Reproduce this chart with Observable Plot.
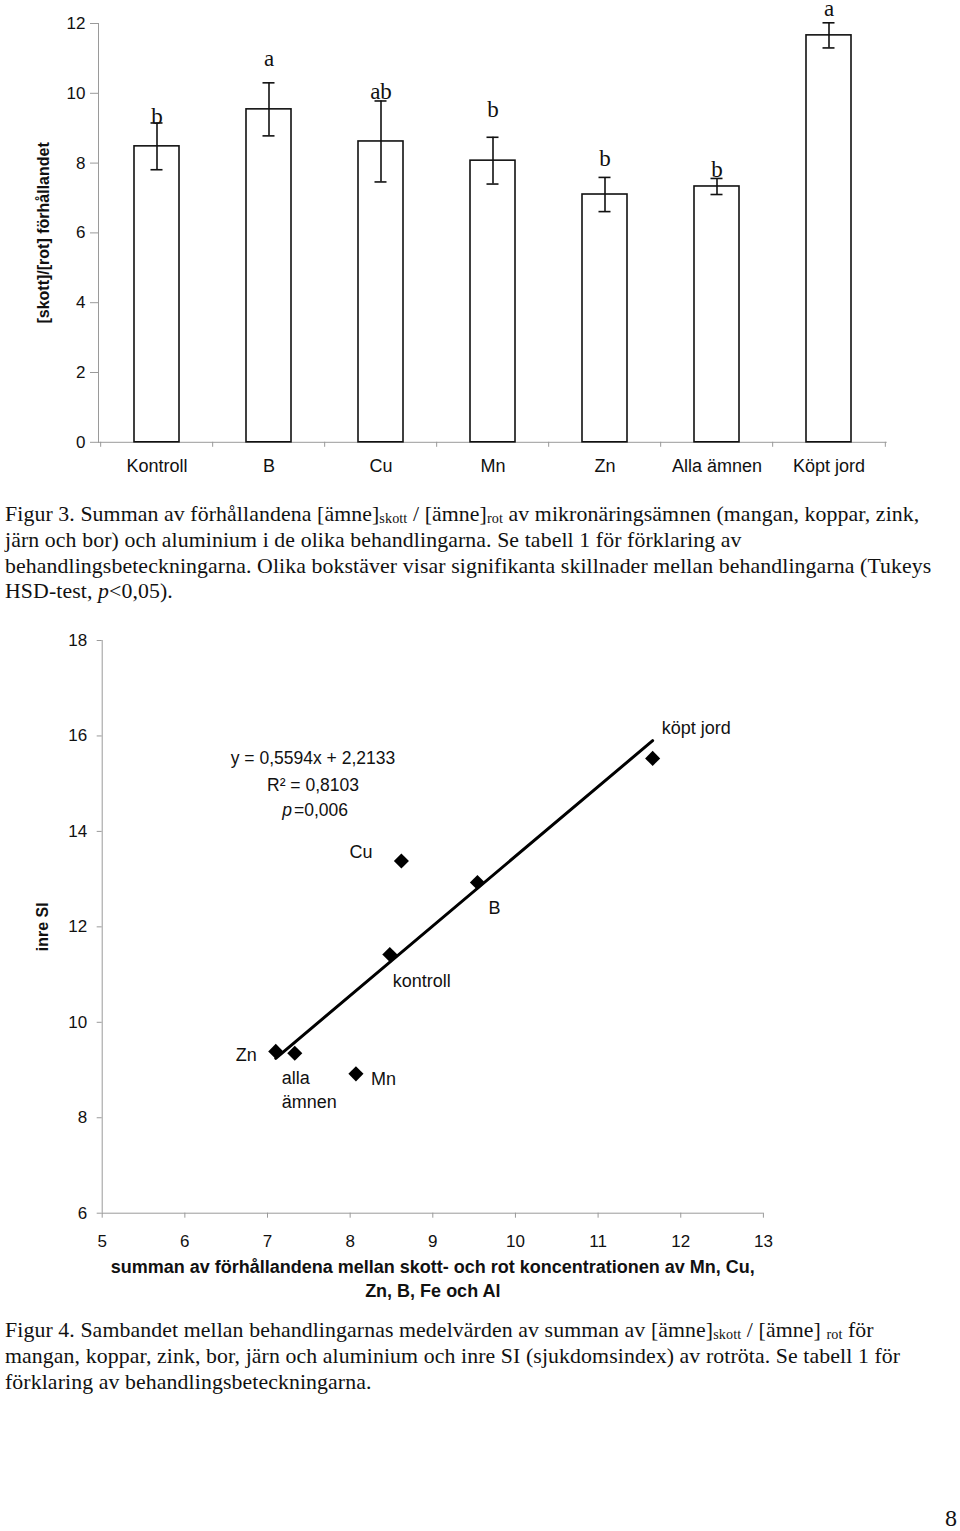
<!DOCTYPE html>
<html>
<head>
<meta charset="utf-8">
<script src="https://cdn.jsdelivr.net/npm/d3@7"></script>
<script src="https://cdn.jsdelivr.net/npm/@observablehq/plot@0.6"></script>
<style>
  html, body { margin: 0; padding: 0; background: #fff; }
  body { position: relative; width: 960px; height: 1531px; overflow: hidden; }
  #bar, #scatter { position: absolute; left: 0; }
  #bar { top: 0; }
  #scatter { top: 620px; }
  .cap { position: absolute; left: 5px; font-family: "Liberation Serif", "Times New Roman", serif;
         font-size: 21.8px; letter-spacing: 0.1px; color: #111; white-space: nowrap; }
  .cap div { height: 25.8px; line-height: 25.8px; }
  .cap sub { font-size: 0.65em; vertical-align: -0.15em; line-height: 0; }
  #cap3 { top: 502px; }
  #cap4 { top: 1318px; }
  #pageno { position: absolute; right: 3px; top: 1506px; font-family: "Liberation Serif", serif; font-size: 24px; line-height: 24px; color: #111; }
</style>
</head>
<body>
<div id="bar"></div>
<div class="cap" id="cap3">
  <div>Figur 3. Summan av förhållandena [ämne]<sub>skott</sub> / [ämne]<sub>rot</sub> av mikronäringsämnen (mangan, koppar, zink,</div>
  <div>järn och bor) och aluminium i de olika behandlingarna. Se tabell 1 för förklaring av</div>
  <div>behandlingsbeteckningarna. Olika bokstäver visar signifikanta skillnader mellan behandlingarna (Tukeys</div>
  <div>HSD-test, <i>p</i>&lt;0,05).</div>
</div>
<div id="scatter"></div>
<div class="cap" id="cap4">
  <div>Figur 4. Sambandet mellan behandlingarnas medelvärden av summan av [ämne]<sub>skott</sub> / [ämne] <sub>rot</sub> för</div>
  <div>mangan, koppar, zink, bor, järn och aluminium och inre SI (sjukdomsindex) av rotröta. Se tabell 1 för</div>
  <div>förklaring av behandlingsbeteckningarna.</div>
</div>
<div id="pageno">8</div>
<script>
// ---------- data ----------
const categories = ["Kontroll", "B", "Cu", "Mn", "Zn", "Alla ämnen", "Köpt jord"];
const ratioMeans = [8.48, 9.54, 8.62, 8.07, 7.10, 7.33, 11.66];
const ratioErrors = [0.67, 0.76, 1.16, 0.67, 0.49, 0.23, 0.36];
const tukeyLetters = ["b", "a", "ab", "b", "b", "b", "a"];
const letterHeights = [9.13, 10.78, 9.84, 9.32, 7.93, 7.60, 12.22];
const barYTicks = [0, 2, 4, 6, 8, 10, 12];

const pointLabels = ["kontroll", "B", "Cu", "Mn", "Zn", "alla\nämnen", "köpt jord"];
const inreSI = [11.42, 12.93, 13.38, 8.92, 9.39, 9.35, 15.53];
const scatterXTicks = [5, 6, 7, 8, 9, 10, 11, 12, 13];
const scatterYTicks = [6, 8, 10, 12, 14, 16, 18];
const equationLines = ["y = 0,5594x + 2,2133", "R² = 0,8103"];
const equationP = "=0,006";
const equationAt = [7.55, 15.54];

const bars = categories.map((c, i) => ({cat: c, mean: ratioMeans[i], err: ratioErrors[i], letter: tukeyLetters[i], ly: letterHeights[i]}));
const points = categories.map((c, i) => ({label: pointLabels[i], x: ratioMeans[i], y: inreSI[i]}));

const AXIS = "#9a9a9a";
const INK = "#111";
const SANS = "'Liberation Sans', Arial, sans-serif";

// ---------- bar chart ----------
const bW = 960, bH = 480, bML = 98, bMR = 73.3, bMT = 23, bMB = 38.2;
const step = (bW - bML - bMR) / categories.length;

const barPlot = Plot.plot({
  width: bW, height: bH,
  marginLeft: bML, marginRight: bMR, marginTop: bMT, marginBottom: bMB,
  style: {fontFamily: SANS, background: "white", color: INK, overflow: "visible"},
  x: {domain: categories, paddingInner: 0.6, paddingOuter: 0.3},
  y: {domain: [0, 12]},
  marks: [
    Plot.frame({anchor: "left", stroke: AXIS}),
    Plot.ruleY([0], {stroke: AXIS}),
    Plot.axisY({ticks: barYTicks, tickSize: 8, tickPadding: 5, stroke: AXIS, fill: INK, fontSize: 17, label: null}),
    Plot.axisX({tickSize: 0, tickPadding: 17, fill: INK, fontSize: 18, label: null}),
    Plot.axisX({tickSize: 5, dx: -step / 2, stroke: AXIS, fill: "none", label: null}),
    Plot.axisX([categories[categories.length - 1]], {tickSize: 5, dx: step / 2, stroke: AXIS, fill: "none", label: null}),
    Plot.text(["[skott]/[rot] förhållandet"], {frameAnchor: "left", textAnchor: "middle", rotate: -90, dx: -54.7, fontWeight: "bold", fontSize: 16, fill: INK}),
    Plot.barY(bars, {x: "cat", y: "mean", fill: "white", stroke: "#111", strokeWidth: 1.6}),
    Plot.ruleX(bars, {x: "cat", y1: d => d.mean - d.err, y2: d => d.mean + d.err, stroke: "#111", strokeWidth: 1.6}),
    Plot.tickY(bars, {x: "cat", y: d => d.mean - d.err, insetLeft: 16.5, insetRight: 16.5, stroke: "#111", strokeWidth: 1.6}),
    Plot.tickY(bars, {x: "cat", y: d => d.mean + d.err, insetLeft: 16.5, insetRight: 16.5, stroke: "#111", strokeWidth: 1.6}),
    Plot.text(bars, {x: "cat", y: "ly", text: "letter", lineAnchor: "bottom", fontFamily: "'Liberation Serif', serif", fontSize: 23, fill: INK})
  ]
});
document.getElementById("bar").appendChild(barPlot);

// ---------- scatter ----------
const sW = 960, sH = 690, sML = 101.7, sMR = 197.1, sMT = 20, sMB = 97.3;

const place = {
  "kontroll":   {textAnchor: "start",  dx: 3,   dy: 27},
  "B":          {textAnchor: "middle", dx: 17,  dy: 26},
  "Cu":         {textAnchor: "end",    dx: -29, dy: -9},
  "Mn":         {textAnchor: "start",  dx: 15,  dy: 5},
  "Zn":         {textAnchor: "end",    dx: -19, dy: 4},
  "alla\nämnen":{textAnchor: "start",  dx: -13, dy: 34.7, lineHeight: 1.33},
  "köpt jord":  {textAnchor: "start",  dx: 9,   dy: -30}
};
const labelMarks = Object.entries(place).map(([lab, o]) =>
  Plot.text(points.filter(p => p.label === lab), {x: "x", y: "y", text: "label", fontSize: 18, fill: INK, lineAnchor: "middle", ...o})
);

const scatterPlot = Plot.plot({
  width: sW, height: sH,
  marginLeft: sML, marginRight: sMR, marginTop: sMT, marginBottom: sMB,
  style: {fontFamily: SANS, background: "white", color: INK, overflow: "visible"},
  x: {domain: [5, 13]},
  y: {domain: [6, 18]},
  marks: [
    Plot.ruleX([5], {stroke: AXIS}),
    Plot.ruleY([6], {stroke: AXIS}),
    Plot.axisY({ticks: scatterYTicks, tickSize: 5, tickPadding: 10, stroke: AXIS, fill: INK, fontSize: 17, label: null}),
    Plot.axisX({ticks: scatterXTicks, tickSize: 5, tickPadding: 17, stroke: AXIS, fill: INK, fontSize: 17, label: null}),
    Plot.text(["inre SI"], {frameAnchor: "left", textAnchor: "middle", rotate: -90, dx: -59.7, fontWeight: "bold", fontSize: 16, fill: INK}),
    Plot.text(["summan av förhållandena mellan skott- och rot koncentrationen av Mn, Cu,\nZn, B, Fe och Al"],
      {frameAnchor: "bottom", lineAnchor: "top", dy: 43, lineHeight: 24 / 18, fontWeight: "bold", fontSize: 18, fill: INK}),
    Plot.linearRegressionY(points, {x: "x", y: "y", ci: 0, stroke: "#000", strokeWidth: 3}),
    Plot.dot(points, {x: "x", y: "y", symbol: "diamond2", r: 6.8, fill: "#000", stroke: "none"}),
    ...labelMarks,
    Plot.text([equationLines[0]], {x: () => equationAt[0], y: () => equationAt[1], fontSize: 17.5, fill: INK}),
    Plot.text([equationLines[1]], {x: () => equationAt[0], y: () => equationAt[1], dy: 27, fontSize: 17.5, fill: INK}),
    Plot.text(["p"], {x: () => equationAt[0], y: () => equationAt[1], dy: 52.5, dx: -21, textAnchor: "end", fontStyle: "italic", fontSize: 17.5, fill: INK}),
    Plot.text([equationP], {x: () => equationAt[0], y: () => equationAt[1], dy: 52.5, dx: -19, textAnchor: "start", fontSize: 17.5, fill: INK})
  ]
});
document.getElementById("scatter").appendChild(scatterPlot);
</script>
</body>
</html>
